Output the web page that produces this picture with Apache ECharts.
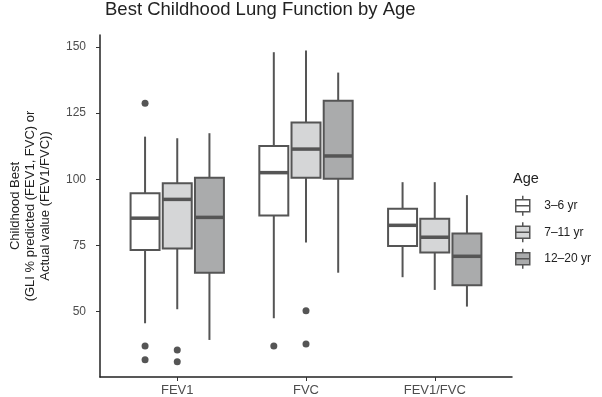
<!DOCTYPE html>
<html>
<head>
<meta charset="utf-8">
<script src="https://cdn.jsdelivr.net/npm/echarts@6/dist/echarts.min.js"></script>
<style>
  html, body { margin: 0; padding: 0; background: #fff; }
  #chart { width: 602px; height: 397px; }
</style>
</head>
<body>
<div id="chart"></div>
<script>
const categories = ['FEV1', 'FVC', 'FEV1/FVC'];
const ageGroups = ['3–6 yr', '7–11 yr', '12–20 yr'];
const yTicks = [50, 75, 100, 125, 150];

// per category: [lower whisker, Q1, median, Q3, upper whisker]
const age3to6 = [
  [45.6, 73.3, 85.3, 94.7, 116.1],
  [47.5, 86.3, 102.5, 112.6, 148.0],
  [63.0, 74.8, 82.6, 88.9, 98.9]
];
const age7to11 = [
  [50.9, 73.8, 92.4, 98.5, 115.5],
  [76.1, 100.6, 111.4, 121.4, 148.6],
  [58.2, 72.3, 78.1, 85.1, 98.9]
];
const age12to20 = [
  [39.3, 64.7, 85.6, 100.6, 117.4],
  [64.7, 100.2, 108.8, 129.7, 140.3],
  [51.9, 60.0, 70.9, 79.5, 94.0]
];

// outliers: [category index, value]
const outliers3to6 = [[0, 128.7], [0, 37.0], [0, 31.8], [1, 37.0]];
const outliers7to11 = [[0, 35.5], [0, 31.1], [1, 50.3], [1, 37.8]];
const outliers12to20 = [];

const boxStats = [age3to6, age7to11, age12to20];
const outlierSets = [outliers3to6, outliers7to11, outliers12to20];
const fills = ['#ffffff', '#d5d6d7', '#aaabac'];
const stroke = '#555555';
const dodge = [-0.25, 0, 0.25];
const boxWidth = 0.225;

function renderBox(params, api) {
  const x = api.value(0);
  const lo = api.coord([x, api.value(1)]);
  const q1 = api.coord([x, api.value(2)]);
  const med = api.coord([x, api.value(3)]);
  const q3 = api.coord([x, api.value(4)]);
  const hi = api.coord([x, api.value(5)]);
  const w = api.size([boxWidth, 0])[0];
  const fill = api.visual('color');
  return {
    type: 'group',
    children: [
      { type: 'line', shape: { x1: hi[0], y1: hi[1], x2: q3[0], y2: q3[1] }, style: { stroke: stroke, lineWidth: 2 } },
      { type: 'line', shape: { x1: q1[0], y1: q1[1], x2: lo[0], y2: lo[1] }, style: { stroke: stroke, lineWidth: 2 } },
      { type: 'rect', shape: { x: q3[0] - w / 2, y: q3[1], width: w, height: q1[1] - q3[1] }, style: { fill: fill, stroke: stroke, lineWidth: 2 } },
      { type: 'line', shape: { x1: med[0] - w / 2, y1: med[1], x2: med[0] + w / 2, y2: med[1] }, style: { stroke: stroke, lineWidth: 3.5 } }
    ]
  };
}

const series = [];
ageGroups.forEach(function (name, g) {
  series.push({
    name: name,
    type: 'custom',
    renderItem: renderBox,
    itemStyle: { color: fills[g] },
    encode: { x: 0, y: [1, 2, 3, 4, 5] },
    data: boxStats[g].map(function (s, i) { return [i + 1 + dodge[g]].concat(s); }),
    z: 2
  });
});
series.push({
  name: 'outliers',
  type: 'scatter',
  symbolSize: 7,
  itemStyle: { color: stroke, opacity: 1 },
  data: [].concat.apply([], outlierSets.map(function (pts, g) {
    return pts.map(function (p) { return [p[0] + 1 + dodge[g], p[1]]; });
  })),
  z: 3
});

const legendIcon = 'path://M8,0L8,4M1,4L15,4L15,16L1,16ZM1,10L15,10M8,16L8,20';

const chart = echarts.init(document.getElementById('chart'));
chart.setOption({
  animation: false,
  textStyle: { fontFamily: 'Liberation Sans' },
  title: [
    {
      text: 'Best Childhood Lung Function by Age',
      left: 105, top: 0, padding: 0,
      textStyle: { fontSize: 18.5, fontWeight: 'normal', color: '#222' }
    },
    {
      text: 'Age',
      left: 513, top: 171, padding: 0,
      textStyle: { fontSize: 14.5, fontWeight: 'normal', color: '#222' }
    }
  ],
  legend: {
    orient: 'vertical',
    left: 515, top: 195, padding: 0,
    itemWidth: 17, itemHeight: 20, itemGap: 5,
    textStyle: { fontSize: 12, color: '#222', padding: [0, 0, 0, 8] },
    data: ageGroups.map(function (name, g) {
      return { name: name, icon: legendIcon, itemStyle: { color: fills[g], borderColor: stroke, borderWidth: 1.5 } };
    })
  },
  grid: { left: 96, right: 90, top: 35, bottom: 20 },
  xAxis: {
    type: 'value',
    min: 0.4, max: 3.6,
    splitLine: { show: false },
    axisLine: { show: true, onZero: false, lineStyle: { color: '#222', width: 1.5 } },
    axisTick: { show: true, length: 4, customValues: [1, 2, 3], lineStyle: { color: '#333' } },
    axisLabel: {
      customValues: [1, 2, 3], margin: 7, fontSize: 13, color: '#4d4d4d',
      formatter: function (v) { return categories[Math.round(v) - 1]; }
    }
  },
  yAxis: {
    type: 'value',
    min: 25.3, max: 154.5,
    name: 'Childhood Best\n(GLI % predicted (FEV1, FVC) or\nActual value (FEV1/FVC))',
    nameLocation: 'middle', nameRotate: 90, nameGap: 47,
    nameTextStyle: { fontSize: 13, lineHeight: 15, color: '#222', align: 'center' },
    splitLine: { show: false },
    axisLine: { show: true, lineStyle: { color: '#222', width: 1.5 } },
    axisTick: { show: true, length: 4, customValues: yTicks, lineStyle: { color: '#333' } },
    axisLabel: { customValues: yTicks, margin: 14, fontSize: 12, color: '#4d4d4d' }
  },
  series: series
});
</script>
</body>
</html>
